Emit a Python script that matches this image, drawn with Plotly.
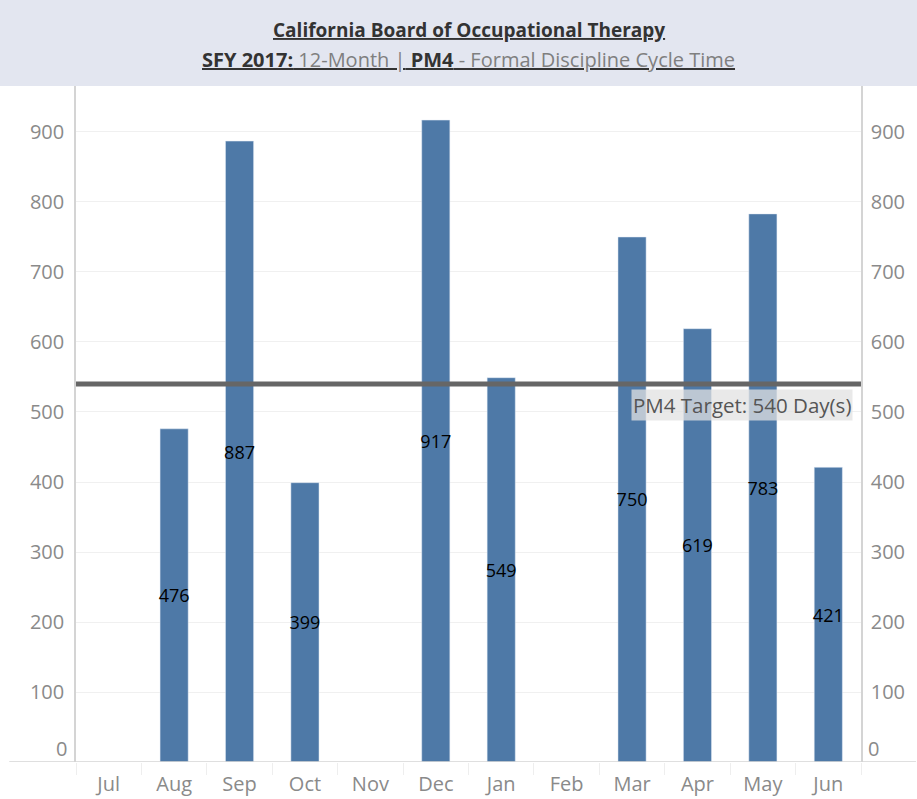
import plotly.graph_objects as go

months = ["Jul", "Aug", "Sep", "Oct", "Nov", "Dec", "Jan", "Feb", "Mar", "Apr", "May", "Jun"]
cycle_days = [None, 476, 887, 399, None, 917, 549, None, 750, 619, 783, 421]
target_days = 540
y_ticks = [100, 200, 300, 400, 500, 600, 700, 800, 900]
zero_tick = 0

FONT = "Open Sans"
bar_color = "#4e79a7"

labels = [str(v) if v is not None else "" for v in cycle_days]

fig = go.Figure()
fig.add_trace(go.Bar(
    x=months, y=cycle_days, marker_color=bar_color, width=0.43,
    text=labels, textposition="inside", insidetextanchor="middle", textangle=0,
    textfont=dict(color="black", size=18, family=FONT),
    constraintext="none", showlegend=False, hoverinfo="x+y",
))
# invisible trace for right axis
fig.add_trace(go.Scatter(x=months, y=cycle_days, yaxis="y2", mode="markers",
                         marker=dict(opacity=0), showlegend=False, hoverinfo="skip"))

ymax = 965.7
tickfont = dict(size=20, color="#8a8a8a", family=FONT)
fig.update_layout(
    width=917, height=799,
    margin=dict(l=76, r=56, t=86, b=37, autoexpand=False),
    paper_bgcolor="white", plot_bgcolor="white",
    font=dict(family=FONT, color="#888888", size=17),
    xaxis=dict(type="category", categoryorder="array", categoryarray=months,
               range=[-0.5, len(months) - 0.5],
               showgrid=False, showline=False, zeroline=False,
               ticks="outside", tickson="boundaries", ticklen=12, tickcolor="#eeeeee",
               ticklabelstandoff=8, tickfont=tickfont),
    yaxis=dict(range=[0, ymax], tickvals=y_ticks, showgrid=True, gridcolor="#f0f0f0",
               zeroline=False, showline=True, linecolor="#d4d4d4", linewidth=1.5,
               ticks="", ticklabelstandoff=6, tickfont=tickfont),
    yaxis2=dict(range=[0, ymax], tickvals=y_ticks, overlaying="y", side="right",
                showgrid=False, zeroline=False, showline=True, linecolor="#d4d4d4", linewidth=1.5,
                ticks="", ticklabelstandoff=4, tickfont=tickfont),
)

# zero labels sit just above the baseline
fig.add_annotation(xref="paper", yref="y", x=0, y=zero_tick, xanchor="right", xshift=-7,
                   yanchor="middle", yshift=14, showarrow=False, text=str(zero_tick), font=tickfont)
fig.add_annotation(xref="paper", yref="y", x=1, y=zero_tick, xanchor="left", xshift=5,
                   yanchor="middle", yshift=14, showarrow=False, text=str(zero_tick), font=tickfont)

# title band
fig.add_shape(type="rect", xref="paper", yref="paper", x0=-0.1, x1=1.1, y0=1.0, y1=1.2,
              fillcolor="#e3e6f0", line_width=0, layer="below")
fig.add_annotation(xref="paper", yref="paper", x=0.5, y=1.0, yshift=56, yanchor="middle",
                   showarrow=False,
                   text="<u><b>California Board of Occupational Therapy</b></u>",
                   font=dict(size=19, color="#333333", family=FONT))
fig.add_annotation(xref="paper", yref="paper", x=0.5, y=1.0, yshift=27, yanchor="middle",
                   showarrow=False,
                   text=("<u><b>SFY 2017:</b><span style='color:#7f7f7f'> 12-Month |</span>"
                         "<b> PM4</b><span style='color:#7f7f7f'> - Formal Discipline Cycle Time</span></u>"),
                   font=dict(size=20, color="#333333", family=FONT))

# baseline extending across
fig.add_shape(type="line", xref="paper", yref="y", x0=-0.085, x1=1.07, y0=0, y1=0,
              line=dict(color="#d4d4d4", width=1.5))

# target line
fig.add_shape(type="line", xref="paper", yref="y", x0=0, x1=1, y0=target_days, y1=target_days,
              line=dict(color="#666666", width=5))
fig.add_annotation(xref="paper", yref="y", x=0.99, y=target_days, yshift=-21,
                   xanchor="right", yanchor="middle", showarrow=False,
                   text=f"PM4 Target: {target_days} Day(s)",
                   bgcolor="rgba(225,225,225,0.75)", borderpad=1,
                   font=dict(size=20.5, color="#555555", family=FONT))

fig.write_html("out.html", config={"displayModeBar": False},
               post_script="document.body.style.margin='0';")
